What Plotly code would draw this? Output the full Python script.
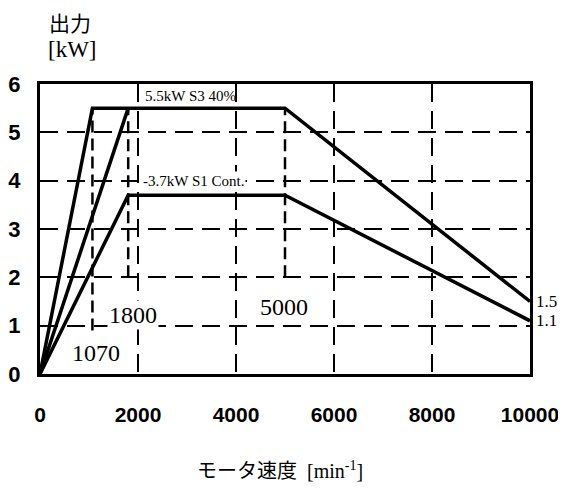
import plotly.graph_objects as go

# Data
s3_speed = [0, 1070, 5000, 10000]
s3_power = [0, 5.5, 5.5, 1.5]
s3b_speed = [0, 1800]
s3b_power = [0, 5.5]
s1_speed = [0, 1800, 5000, 10000]
s1_power = [0, 3.7, 3.7, 1.1]
mark_speeds = [1070, 1800, 5000]
mark_low = [0.9, 2.0, 2.0]
x_ticks = [0, 2000, 4000, 6000, 8000, 10000]
y_ticks = [0, 1, 2, 3, 4, 5, 6]

SERIF = "Liberation Serif"
JP = "Noto Sans CJK JP"

fig = go.Figure()
# vertical reference dashed lines
for xs, lo in zip(mark_speeds, mark_low):
    fig.add_trace(go.Scatter(x=[xs, xs], y=[lo, s3_power[1]], mode="lines",
                             line=dict(color="black", width=2.5, dash="12px,6px"),
                             showlegend=False, hoverinfo="skip"))
for xs, ys in [(s3_speed, s3_power), (s3b_speed, s3b_power), (s1_speed, s1_power)]:
    fig.add_trace(go.Scatter(x=xs, y=ys, mode="lines",
                             line=dict(color="black", width=3.5),
                             showlegend=False, hoverinfo="skip"))

ann = []
# curve labels
ann.append(dict(x=2100, y=5.75, xref="x", yref="y", text="5.5kW S3 40%",
                xanchor="left", yanchor="middle", showarrow=False,
                font=dict(family=SERIF, size=15, color="black")))
ann.append(dict(x=2060, y=4.0, xref="x", yref="y", text="-3.7kW S1 Cont.",
                xanchor="left", yanchor="middle", showarrow=False, bgcolor="white",
                font=dict(family=SERIF, size=15, color="black")))
# speed labels
ann.append(dict(x=1370, y=1.22, xref="x", yref="y", text=str(mark_speeds[1]),
                xanchor="left", yanchor="middle", showarrow=False, bgcolor="white",
                font=dict(family=SERIF, size=24, color="black")))
ann.append(dict(x=620, y=0.43, xref="x", yref="y", text=str(mark_speeds[0]),
                xanchor="left", yanchor="middle", showarrow=False,
                font=dict(family=SERIF, size=24, color="black")))
ann.append(dict(x=4450, y=1.38, xref="x", yref="y", text=str(mark_speeds[2]),
                xanchor="left", yanchor="middle", showarrow=False, bgcolor="white",
                font=dict(family=SERIF, size=24, color="black")))
# end values
ann.append(dict(x=s3_speed[-1], y=s3_power[-1], xref="x", yref="y", text=str(s3_power[-1]),
                xanchor="left", yanchor="middle", showarrow=False, xshift=4,
                font=dict(family=SERIF, size=17, color="black")))
ann.append(dict(x=s1_speed[-1], y=s1_power[-1], xref="x", yref="y", text=str(s1_power[-1]),
                xanchor="left", yanchor="middle", showarrow=False, xshift=4,
                font=dict(family=SERIF, size=17, color="black")))
# axis titles
ann.append(dict(x=0.015, y=1.215, xref="paper", yref="paper", text="出力",
                xanchor="left", yanchor="middle", showarrow=False,
                font=dict(family=JP, size=21, color="black")))
ann.append(dict(x=0.012, y=1.12, xref="paper", yref="paper", text="[kW]",
                xanchor="left", yanchor="middle", showarrow=False,
                font=dict(family=SERIF, size=23, color="black")))
ann.append(dict(x=0.49, y=-0.331, xref="paper", yref="paper",
                text="<span style='font-family:Noto Sans CJK JP'>モータ速度</span>  [min<sup>-1</sup>]",
                xanchor="center", yanchor="middle", showarrow=False,
                font=dict(family=SERIF, size=20, color="black")))

# page body has an 8px margin, so the figure is offset by 8px
fig.update_layout(
    width=558, height=481,
    margin=dict(l=32, r=36, t=76, b=115),
    paper_bgcolor="white", plot_bgcolor="white",
    annotations=ann,
    xaxis=dict(range=[0, 10000], tickvals=x_ticks, ticktext=[str(v) for v in x_ticks],
               showline=True, linecolor="black", linewidth=3, mirror=True,
               showgrid=True, gridcolor="black", gridwidth=2, griddash="18px,9px",
               zeroline=False, ticks="", ticklabelstandoff=20, automargin=False,
               tickfont=dict(family="Liberation Sans", size=21, color="black", weight="bold")),
    yaxis=dict(range=[0, 6], tickvals=y_ticks,
               showline=True, linecolor="black", linewidth=3, mirror=True,
               showgrid=True, gridcolor="black", gridwidth=2, griddash="18px,9px",
               zeroline=False, ticks="", ticklabelstandoff=12, automargin=False,
               tickfont=dict(family="Liberation Sans", size=22, color="black", weight="bold")),
)

fig.write_html("out.html")
